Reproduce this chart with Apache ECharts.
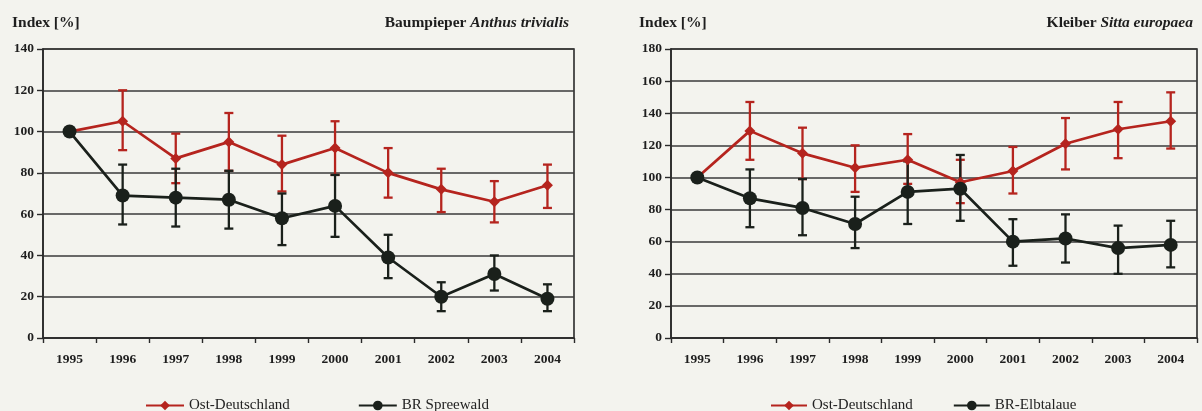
<!DOCTYPE html>
<html>
<head>
<meta charset="utf-8">
<script src="https://cdn.jsdelivr.net/npm/echarts@6/dist/echarts.min.js"></script>
<style>
  body { margin: 0; background: #f3f3ee; }
  #main { width: 1202px; height: 411px; }
</style>
</head>
<body>
<div id="main"></div>
<script>
// Jahre
var years = ['1995', '1996', '1997', '1998', '1999', '2000', '2001', '2002', '2003', '2004'];

// Baumpieper - Index, untere / obere Fehlergrenze
var baumOst = [100, 105, 87, 95, 84, 92, 80, 72, 66, 74];
var baumOstLo = [100, 91, 75, 81, 71, 79, 68, 61, 56, 63];
var baumOstHi = [100, 120, 99, 109, 98, 105, 92, 82, 76, 84];
var baumSpree = [100, 69, 68, 67, 58, 64, 39, 20, 31, 19];
var baumSpreeLo = [100, 55, 54, 53, 45, 49, 29, 13, 23, 13];
var baumSpreeHi = [100, 84, 82, 81, 70, 79, 50, 27, 40, 26];

// Kleiber
var kleibOst = [100, 129, 115, 106, 111, 97, 104, 121, 130, 135];
var kleibOstLo = [100, 111, 99, 91, 96, 84, 90, 105, 112, 118];
var kleibOstHi = [100, 147, 131, 120, 127, 111, 119, 137, 147, 153];
var kleibElbe = [100, 87, 81, 71, 91, 93, 60, 62, 56, 58];
var kleibElbeLo = [100, 69, 64, 56, 71, 73, 45, 47, 40, 44];
var kleibElbeHi = [100, 105, 99, 88, 110, 114, 74, 77, 70, 73];

var RED = '#b5241e';
var BLACK = '#1a201b';
var SERIF = '"Liberation Serif", "DejaVu Serif", serif';

function bars(lo, hi) {
  var out = [];
  for (var i = 0; i < lo.length; i++) {
    if (lo[i] !== hi[i]) out.push([i, lo[i], hi[i]]);
  }
  return out;
}

function errorSeries(idx, lo, hi, color) {
  return {
    type: 'custom',
    xAxisIndex: idx, yAxisIndex: idx,
    data: bars(lo, hi),
    silent: true,
    z: 2,
    renderItem: function (params, api) {
      var x = api.value(0);
      var a = api.coord([x, api.value(1)]);
      var b = api.coord([x, api.value(2)]);
      var w = 4.5;
      var st = { stroke: color, lineWidth: 2.3 };
      return {
        type: 'group',
        children: [
          { type: 'line', shape: { x1: a[0], y1: a[1], x2: b[0], y2: b[1] }, style: st },
          { type: 'line', shape: { x1: a[0] - w, y1: a[1], x2: a[0] + w, y2: a[1] }, style: st },
          { type: 'line', shape: { x1: b[0] - w, y1: b[1], x2: b[0] + w, y2: b[1] }, style: st }
        ]
      };
    }
  };
}

function lineSeries(idx, name, data, color, symbol, size) {
  return {
    type: 'line',
    name: name,
    xAxisIndex: idx, yAxisIndex: idx,
    data: data,
    symbol: symbol,
    symbolSize: size,
    z: 3,
    lineStyle: { color: color, width: 2.7 },
    itemStyle: { color: color },
    animation: false
  };
}

function xAxis(idx) {
  return {
    type: 'category',
    gridIndex: idx,
    data: years,
    boundaryGap: true,
    axisLine: { lineStyle: { color: '#2a2a2a', width: 1.6 } },
    axisTick: { show: true, length: 5, lineStyle: { color: '#2a2a2a', width: 1.4 } },
    axisLabel: { color: '#1e1e1e', fontFamily: SERIF, fontWeight: 'bold', fontSize: 13.5, margin: 15 }
  };
}

function yAxis(idx, max) {
  return {
    type: 'value',
    gridIndex: idx,
    min: 0, max: max, interval: 20,
    axisLine: { show: true, lineStyle: { color: '#2a2a2a', width: 1.6 } },
    axisTick: { show: true, length: 6, lineStyle: { color: '#2a2a2a', width: 1.4 } },
    splitLine: { lineStyle: { color: '#3a3a3a', width: 1.6 } },
    axisLabel: { color: '#1e1e1e', fontFamily: SERIF, fontWeight: 'bold', fontSize: 13.5, margin: 9 }
  };
}

var titleRich = {
  n: { fontFamily: SERIF, fontWeight: 'bold', fontSize: 15.5, color: '#1e1e1e' },
  i: { fontFamily: SERIF, fontWeight: 'bold', fontStyle: 'italic', fontSize: 15.5, color: '#1e1e1e' }
};
var idxStyle = { fontFamily: SERIF, fontWeight: 'bold', fontSize: 15.5, color: '#1e1e1e' };

var chart = echarts.init(document.getElementById('main'));
chart.setOption({
  backgroundColor: '#f3f3ee',
  animation: false,
  title: [
    { text: 'Index [%]', left: 7, top: 10, textStyle: idxStyle },
    { text: '{n|Baumpieper }{i|Anthus trivialis}', right: 628, top: 10, textStyle: { rich: titleRich } },
    { text: 'Index [%]', left: 634, top: 10, textStyle: idxStyle },
    { text: '{n|Kleiber }{i|Sitta europaea}', right: 4, top: 10, textStyle: { rich: titleRich } }
  ],
  grid: [
    { left: 43, top: 49, width: 531, height: 289, show: true, borderColor: '#2a2a2a', borderWidth: 1.6, backgroundColor: 'transparent' },
    { left: 671, top: 49, width: 526, height: 289, show: true, borderColor: '#2a2a2a', borderWidth: 1.6, backgroundColor: 'transparent' }
  ],
  legend: [
    {
      left: 140, top: 393, itemWidth: 38, itemHeight: 12, itemGap: 68,
      data: ['Ost-Deutschland', 'BR Spreewald'],
      textStyle: { fontFamily: SERIF, fontSize: 15, color: '#222' }
    },
    {
      left: 765, top: 393, itemWidth: 36, itemHeight: 12, itemGap: 40,
      data: ['Ost-Deutschland', 'BR-Elbtalaue'],
      textStyle: { fontFamily: SERIF, fontSize: 15, color: '#222' }
    }
  ],
  xAxis: [xAxis(0), xAxis(1)],
  yAxis: [yAxis(0, 140), yAxis(1, 180)],
  series: [
    errorSeries(0, baumOstLo, baumOstHi, RED),
    errorSeries(0, baumSpreeLo, baumSpreeHi, BLACK),
    lineSeries(0, 'Ost-Deutschland', baumOst, RED, 'diamond', 11),
    lineSeries(0, 'BR Spreewald', baumSpree, BLACK, 'circle', 14),
    errorSeries(1, kleibOstLo, kleibOstHi, RED),
    errorSeries(1, kleibElbeLo, kleibElbeHi, BLACK),
    lineSeries(1, 'Ost-Deutschland', kleibOst, RED, 'diamond', 11),
    lineSeries(1, 'BR-Elbtalaue', kleibElbe, BLACK, 'circle', 14)
  ]
});
</script>
</body>
</html>
